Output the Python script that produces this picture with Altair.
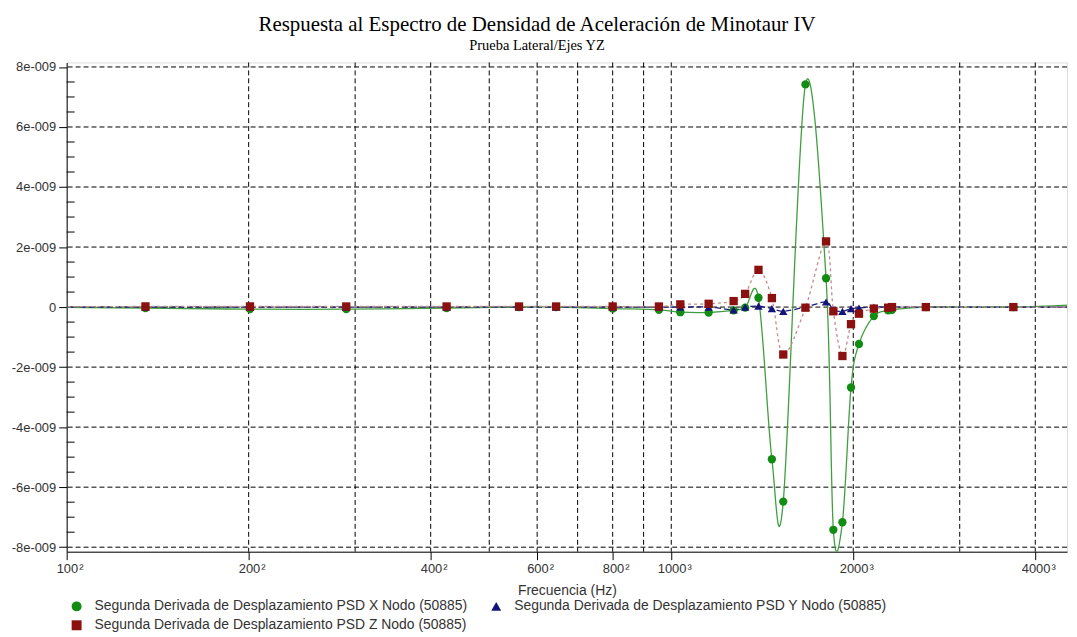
import altair as alt
import pandas as pd

# ---------------- data ----------------
freq_hz = [80, 135, 201, 290, 425, 560, 645, 800, 954, 1035, 1153, 1268, 1325, 1394,
           1467, 1532, 1667, 1803, 1854, 1919, 1983, 2044, 2163, 2284, 2318, 2637,
           3680, 5000]

# values in units of 1e-9
x_psd = [0.0, -0.03, -0.07, -0.07, -0.03, 0.0, 0.0, -0.05, -0.09, -0.17, -0.18, -0.11,
         -0.02, 0.31, -5.07, -6.48, 7.42, 0.96, -7.42, -7.17, -2.68, -1.23, -0.30,
         -0.11, -0.09, 0.0, 0.0, 0.11]
y_psd = [0.0, 0.0, 0.0, 0.0, 0.0, 0.0, 0.0, 0.0, 0.0, 0.0, 0.0, -0.09,
         0.0, 0.03, -0.05, -0.14, 0.0, 0.17, -0.10, -0.14, -0.05, -0.03, 0.0,
         0.0, 0.0, 0.0, 0.0, 0.0]
z_psd = [0.0, 0.02, 0.02, 0.02, 0.02, 0.02, 0.02, 0.02, 0.02, 0.09, 0.11, 0.20,
         0.44, 1.24, 0.30, -1.58, -0.02, 2.19, -0.14, -1.63, -0.57, -0.22, -0.05,
         -0.02, 0.0, 0.0, 0.0, 0.0]

series_names = [
    "Segunda Derivada de Desplazamiento PSD X Nodo (50885)",
    "Segunda Derivada de Desplazamiento PSD Y Nodo (50885)",
    "Segunda Derivada de Desplazamiento PSD Z Nodo (50885)",
]

x_tick_values = [100, 200, 400, 600, 800, 1000, 2000, 4000]
x_grid_values = [200, 300, 400, 500, 600, 700, 800, 900, 1000, 2000, 3000, 4000]
y_tick_values = [-8e-9, -6e-9, -4e-9, -2e-9, 0.0, 2e-9, 4e-9, 6e-9, 8e-9]
y_minor_values = [v * 1e-9 for v in [-7.5, -7, -6.5, -5.5, -5, -4.5, -3.5, -3, -2.5,
                                     -1.5, -1, -0.5, 0.5, 1, 1.5, 2.5, 3, 3.5,
                                     4.5, 5, 5.5, 6.5, 7, 7.5]]

rows = []
for name, vals in zip(series_names, [x_psd, y_psd, z_psd]):
    for f, v in zip(freq_hz, vals):
        rows.append({"freq": f, "value": v * 1e-9, "series": name})
df = pd.DataFrame(rows)

xscale = alt.Scale(type="log", domain=[100, 4514], nice=False)
yscale = alt.Scale(domain=[-8.15e-9, 8.15e-9], nice=False, zero=False)

LABEL_FONT = "Liberation Sans"

x_axis = alt.Axis(
    values=x_tick_values,
    labelExpr="datum.value < 1000 ? datum.value + '\u200a²' : datum.value + '\u200a³'",
    grid=False, tickSize=8, tickColor="black", domainColor="black",
    labelFont=LABEL_FONT, labelFontSize=13, labelColor="#333333",
    labelFlush=False, labelOverlap=False, labelPadding=3, labelOffset=3,
    title="Frecuencia (Hz)", titleFont=LABEL_FONT, titleFontSize=14,
    titleFontWeight="normal", titleColor="#333333", titlePadding=8,
)
y_axis = alt.Axis(
    values=y_tick_values,
    labelExpr="datum.value == 0 ? '0' : round(datum.value * 1e9) + 'e-009'",
    grid=False, tickSize=8, tickColor="black", domainColor="black",
    labelFont=LABEL_FONT, labelFontSize=13, labelColor="#333333",
    labelFlush=False, labelOverlap=False, labelPadding=3, title=None,
)

# grid lines
grid_v = alt.Chart(pd.DataFrame({"g": x_grid_values})).mark_rule(
    color="black", strokeWidth=1, strokeDash=[5, 3]
).encode(x=alt.X("g:Q", scale=xscale, axis=x_axis))
grid_h = alt.Chart(pd.DataFrame({"g": y_tick_values})).mark_rule(
    color="black", strokeWidth=1, strokeDash=[5, 3]
).encode(y=alt.Y("g:Q", scale=yscale, axis=y_axis))
minor_ticks = alt.Chart(pd.DataFrame({"m": y_minor_values})).mark_rule(
    color="black", strokeWidth=1
).encode(y=alt.Y("m:Q", scale=yscale, axis=y_axis), x=alt.value(0), x2=alt.value(8))

line_styles = [
    ("#3f9f3f", None),
    ("#1c1c78", [6, 3]),
    ("#c48a8a", [3, 3]),
]
line_layers = []
for name, (col, dash) in zip(series_names, line_styles):
    kw = dict(interpolate="cardinal", clip=True, strokeWidth=1.3, color=col)
    if dash:
        kw["strokeDash"] = dash
    line_layers.append(
        alt.Chart(df[df["series"] == name]).mark_line(**kw).encode(
            x=alt.X("freq:Q", scale=xscale, axis=x_axis),
            y=alt.Y("value:Q", scale=yscale, axis=y_axis),
            order="freq:Q",
        )
    )

points = alt.Chart(df).mark_point(filled=True, opacity=1, clip=True, size=70).encode(
    x=alt.X("freq:Q", scale=xscale, axis=x_axis),
    y=alt.Y("value:Q", scale=yscale, axis=y_axis),
    color=alt.Color(
        "series:N",
        scale=alt.Scale(domain=series_names, range=["#138c13", "#141478", "#8b1010"]),
        legend=alt.Legend(
            orient="none", legendX=3, legendY=540, columns=2, direction="horizontal",
            title=None, labelFont=LABEL_FONT, labelFontSize=14, labelColor="#333333",
            symbolSize=100, labelOffset=11, columnPadding=21, rowPadding=5,
            labelLimit=600, symbolStrokeWidth=0,
        ),
    ),
    shape=alt.Shape(
        "series:N",
        scale=alt.Scale(domain=series_names, range=["circle", "triangle-up", "square"]),
    ),
)

chart = alt.layer(grid_v, grid_h, minor_ticks, *line_layers, points).properties(
    width=1006,
    height=492,
    padding={"left": 59, "top": 53, "right": 2, "bottom": 82},
    autosize=alt.AutoSizeParams(type="none"),
    title=alt.TitleParams(
        text="Respuesta al Espectro de Densidad de Aceleración de Minotaur IV",
        subtitle="Prueba Lateral/Ejes YZ",
        font="Liberation Serif", fontSize=21, fontWeight="normal", color="black",
        subtitleFont="Liberation Serif", subtitleFontSize=14.5, subtitleColor="black",
        anchor="middle", frame="group", dx=-30, offset=9, subtitlePadding=4,
    ),
).configure_view(stroke="black", strokeWidth=1).configure(background="white")

chart.save("out.html", embed_options={"renderer": "svg", "actions": False})
